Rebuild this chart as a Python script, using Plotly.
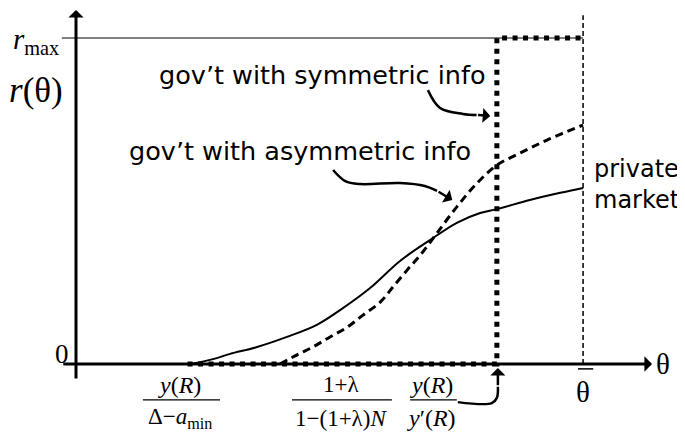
import plotly.graph_objects as go

# theta in units of theta-bar, r in units of r_max
theta_private = [0.225, 0.270, 0.304, 0.357, 0.416, 0.475, 0.527, 0.580, 0.639,
                 0.698, 0.751, 0.797, 0.830, 0.895, 0.955, 1.000]
r_private = [0.000, 0.015, 0.031, 0.052, 0.083, 0.120, 0.172, 0.233, 0.316,
             0.380, 0.433, 0.463, 0.475, 0.503, 0.525, 0.540]

theta_asym = [0.402, 0.436, 0.467, 0.501, 0.535, 0.566, 0.600, 0.625, 0.653,
              0.679, 0.712, 0.751, 0.791, 0.830, 0.876, 0.929, 1.000]
r_asym = [0.000, 0.028, 0.052, 0.083, 0.113, 0.150, 0.190, 0.236, 0.288,
          0.334, 0.402, 0.482, 0.555, 0.610, 0.647, 0.687, 0.733]

theta_low = 0.22      # y(R)/(Delta - a_min)
theta_sym = 0.83      # threshold under symmetric info
theta_bar = 1.0
r_max = 1.0

theta_sym_path = [theta_low, theta_sym, theta_sym, theta_bar]
r_sym_path = [0, 0, r_max, r_max]

# pointer curves (tail ... last body point), arrow tip
sym_ptr_x = [0.694, 0.718, 0.763, 0.790]
sym_ptr_y = [0.840, 0.785, 0.767, 0.764]
sym_tip = (0.817, 0.761)

asym_ptr_x = [0.507, 0.531, 0.560, 0.639, 0.688, 0.712]
asym_ptr_y = [0.595, 0.561, 0.552, 0.555, 0.546, 0.531]
asym_tip = (0.742, 0.503)

low_ptr_x = [0.753, 0.820, 0.830, 0.832]
low_ptr_y = [-0.117, -0.120, -0.104, -0.070]
low_tip = (0.832, -0.012)

SERIF = "Liberation Serif, Times New Roman, serif"
SANS = "DejaVu Sans, Tahoma, Verdana, sans-serif"

fig = go.Figure()

# r_max reference line and theta-bar dashed vertical
fig.add_trace(go.Scatter(x=[-0.028, theta_bar], y=[r_max, r_max], mode="lines",
                         line=dict(color="black", width=1.2)))
fig.add_trace(go.Scatter(x=[theta_bar, theta_bar], y=[0, 1.07], mode="lines",
                         line=dict(color="black", width=1.5, dash="5px,3px")))

fig.add_trace(go.Scatter(x=theta_private, y=r_private, mode="lines",
                         line=dict(color="black", width=2, shape="spline")))
fig.add_trace(go.Scatter(x=theta_asym, y=r_asym, mode="lines",
                         line=dict(color="black", width=3, dash="8px,5px", shape="spline")))
fig.add_trace(go.Scatter(x=theta_sym_path, y=r_sym_path, mode="lines",
                         line=dict(color="black", width=5, dash="5px,5.5px")))

for px_, py_ in [(sym_ptr_x, sym_ptr_y), (asym_ptr_x, asym_ptr_y), (low_ptr_x, low_ptr_y)]:
    fig.add_trace(go.Scatter(x=px_, y=py_, mode="lines",
                             line=dict(color="black", width=2.5, shape="spline")))

def arrow(tail, tip, width=2.5, size=1.0):
    fig.add_annotation(x=tip[0], y=tip[1], ax=tail[0], ay=tail[1], xref="x", yref="y",
                       axref="x", ayref="y", text="", showarrow=True, arrowhead=1,
                       arrowwidth=width, arrowsize=size, arrowcolor="black", standoff=0)

# axes
arrow((0, -0.049), (0, 1.086), width=3, size=0.85)
arrow((-0.028, 0), (1.136, 0), width=3, size=0.85)
# pointers
arrow((sym_ptr_x[-1], sym_ptr_y[-1]), sym_tip)
arrow((asym_ptr_x[-1], asym_ptr_y[-1]), asym_tip)
arrow((low_ptr_x[-1], low_ptr_y[-1]), low_tip)

def label(x, y, text, size, font=SANS, xanchor="center", align="left"):
    fig.add_annotation(x=x, y=y, xref="x", yref="y", text=text, showarrow=False,
                       xanchor=xanchor, yanchor="middle", align=align,
                       font=dict(family=font, size=size, color="black"))

label(0.160, 0.885, "gov’t with symmetric info", 25.5, xanchor="left")
label(0.101, 0.653, "gov’t with asymmetric info", 25.5, xanchor="left")
label(1.018, 0.552, "private<br>market", 24, xanchor="left")

label(-0.030, 0.990, "<i>r</i><sub>max</sub>", 29, SERIF, xanchor="right")
label(-0.022, 0.838, "<i>r</i>(θ)", 35, SERIF, xanchor="right")
label(-0.010, 0.030, "0", 27, SERIF, xanchor="right")
label(1.140, 0.000, "θ", 29, SERIF, xanchor="left")
label(theta_bar, -0.086, "θ", 29, SERIF)

# fractions
label(0.205, -0.064, "<i>y</i>(<i>R</i>)", 24, SERIF)
label(0.205, -0.166, "Δ−<i>a</i><sub>min</sub>", 23, SERIF)
label(0.523, -0.064, "1+λ", 23, SERIF)
label(0.523, -0.166, "1−(1+λ)<i>N</i>", 23, SERIF)
label(0.702, -0.064, "<i>y</i>(<i>R</i>)", 24, SERIF)
label(0.702, -0.166, "<i>y</i>′(<i>R</i>)", 24, SERIF)

bars = [(0.132, 0.284), (0.426, 0.623), (0.659, 0.751)]
for x0, x1 in bars:
    fig.add_shape(type="line", x0=x0, x1=x1, y0=-0.110, y1=-0.110, xref="x", yref="y",
                  line=dict(color="black", width=1.3))
# overline of theta-bar
fig.add_shape(type="line", x0=0.990, x1=1.020, y0=-0.015, y1=-0.015, xref="x", yref="y",
              line=dict(color="black", width=1.5))

# page body has an 8px margin, so the figure is 8px smaller and ranges start there
fig.update_layout(
    width=677, height=425, margin=dict(l=0, r=0, t=0, b=0),
    paper_bgcolor="white", plot_bgcolor="white", showlegend=False,
    xaxis=dict(range=[-0.1341, 1.201], visible=False, fixedrange=True),
    yaxis=dict(range=[-0.2117, 1.092], visible=False, fixedrange=True),
)

fig.write_html("out.html")
